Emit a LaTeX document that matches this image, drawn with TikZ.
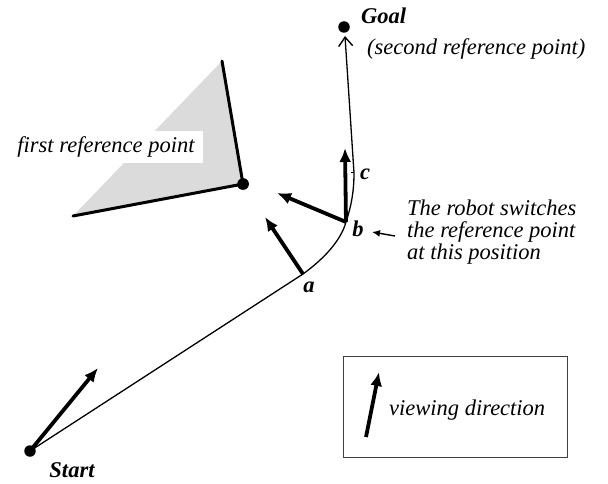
\documentclass[tikz,border=0pt]{standalone}
\usepackage{fontspec}
\setmainfont{Liberation Serif}
\usetikzlibrary{arrows.meta}
\begin{document}
\begin{tikzpicture}[x=1pt,y=-1pt,
  every node/.style={font=\fontsize{22.5}{22}\selectfont\itshape, inner sep=0pt},
  lbl/.style={font=\fontsize{22.5}{22}\selectfont\bfseries\itshape},
  dot/.style={circle, fill=black, minimum size=11.5pt, inner sep=0pt},
  view/.style={line width=3.8pt, -{Latex[length=14pt,width=12pt]}},
  pathline/.style={line width=1.3pt},
  edge/.style={line width=3pt, line cap=round}]
\useasboundingbox (0,0) rectangle (608,484);
% obstacle
\coordinate (top) at (222,61);
\coordinate (bl) at (73,216);
\node[dot] (ref) at (243,184) {};
\fill[gray!28] (top) -- (ref.center) -- (bl) -- cycle;
\draw[edge] (top) -- (ref.center) -- (bl);
\node[fill=white, inner xsep=8pt, inner ysep=6pt] (firstlbl) at (106,147) {first reference point};
\node[dot] (ref2) at (243,184) {};
% points
\node[dot] (start) at (30,451) {};
\node[lbl, anchor=north] (startlbl) at (72,462) {Start};
\node[dot] (goal) at (344,27) {};
\node[lbl, anchor=west] (goallbl) at (361,16) {Goal};
\node[anchor=west] (second) at (367,49) {(second reference point)};
\coordinate (a) at (303,274);
\coordinate (b) at (346,222);
\coordinate (c) at (354,173);
\coordinate (gtip) at (345,36);
% path
\draw[pathline] (start.center) -- (a) .. controls (325,258) and (341,240) .. (b)
  .. controls (351,207) and (354,192) .. (c);
\draw[pathline, -{Straight Barb[length=9pt,width=14pt,line width=1.4pt]}] (c) -- (gtip);
\draw[line width=1pt] (351,173) -- (c);
\node[lbl, anchor=west] (clbl) at (360,174) {c};
\node[lbl] (albl) at (309,287) {a};
\node[lbl] (blbl) at (358,229) {b};
% viewing arrows
\coordinate (t0) at (98,368);
\coordinate (t1) at (265,217);
\coordinate (t2) at (277,193);
\coordinate (t3) at (345,148);
\draw[view] (start.center) -- (t0);
\draw[view] (a) -- (t1);
\draw[view] (b) -- (t2);
\draw[view] (b) -- (t3);
% annotation
\node[align=left, anchor=north west] (note) at (407,200) {The robot switches\\the reference point\\at this position};
\coordinate (nt) at (372,232);
\draw[line width=1.4pt, -{Latex[length=8pt,width=7pt]}] (395,236) -- (nt);
% legend
\node[draw=black!75, line width=1pt, minimum width=224pt, minimum height=101pt, anchor=north west] (legend) at (343,356) {};
\coordinate (l0) at (366,437);
\coordinate (l1) at (379,372);
\draw[view] (l0) -- (l1);
\node[anchor=west] (vd) at (389,410) {viewing direction};
\end{tikzpicture}
\end{document}
